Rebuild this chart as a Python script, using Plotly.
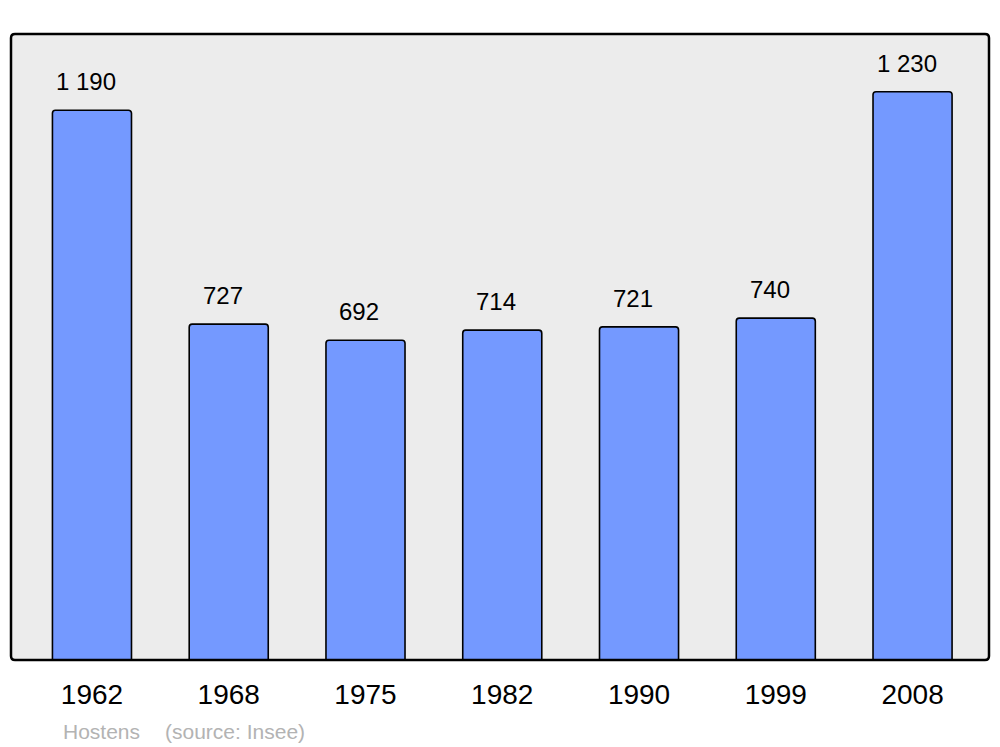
import plotly.graph_objects as go

years = ["1962", "1968", "1975", "1982", "1990", "1999", "2008"]
population = [1190, 727, 692, 714, 721, 740, 1230]
footer_author = "Hostens"
footer_source = "(source: Insee)"

FONT = "Liberation Sans, Arial, sans-serif"
xpos = list(range(len(years)))

fig = go.Figure()
fig.add_trace(go.Bar(
    x=xpos, y=population, width=0.578,
    marker=dict(color="#7499ff", line=dict(color="#000000", width=1.6), cornerradius=3),
    hoverinfo="skip",
))

for x, v in zip(xpos, population):
    fig.add_annotation(
        x=x, y=v, xref="x", yref="y",
        text=f"{v:,}".replace(",", " "),
        showarrow=False, yanchor="bottom", xanchor="center",
        xshift=-6, yshift=13,
        font=dict(family=FONT, size=24, color="#000000"),
    )

W, H = 1000, 747
ml, mr, mt, mb = 11, 11, 34, 87
pw, ph = W - ml - mr, H - mt - mb
def px(xp):
    return (xp - ml) / pw
def py(yp):
    return (H - mb - yp) / ph

fig.add_annotation(x=px(61), y=py(731), xref="paper", yref="paper", text=footer_author,
                   showarrow=False, xanchor="left", yanchor="middle",
                   font=dict(family=FONT, size=21, color="#b3b3b3"))
fig.add_annotation(x=px(163), y=py(731), xref="paper", yref="paper", text=footer_source,
                   showarrow=False, xanchor="left", yanchor="middle",
                   font=dict(family=FONT, size=21, color="#b3b3b3"))

rx, ry = 4 / pw, 4 / ph
path = (f"M {rx},0 L {1-rx},0 Q 1,0 1,{ry} L 1,{1-ry} Q 1,1 {1-rx},1 "
        f"L {rx},1 Q 0,1 0,{1-ry} L 0,{ry} Q 0,0 {rx},0 Z")
fig.add_shape(type="path", path=path, xref="paper", yref="paper",
              fillcolor="#ececec", line=dict(width=0), layer="below")
fig.add_shape(type="path", path=path, xref="paper", yref="paper",
              fillcolor="rgba(0,0,0,0)", line=dict(color="#000000", width=2.5), layer="above")

fig.update_layout(
    width=W, height=H,
    margin=dict(l=ml, r=mr, t=mt, b=mb),
    paper_bgcolor="#ffffff", plot_bgcolor="rgba(0,0,0,0)",
    showlegend=False,
    xaxis=dict(range=[-0.592, 6.559], tickvals=xpos, ticktext=years,
               showgrid=False, zeroline=False, showline=False, ticks="",
               tickfont=dict(family=FONT, size=28, color="#000000"),
               ticklabelstandoff=15, fixedrange=True),
    yaxis=dict(range=[0, 1355], showgrid=False, zeroline=False, showline=False,
               showticklabels=False, ticks="", fixedrange=True),
)

fig.write_html("out.html", config={"displayModeBar": False},
               post_script="document.body.style.margin='0';document.body.style.overflow='hidden';")
